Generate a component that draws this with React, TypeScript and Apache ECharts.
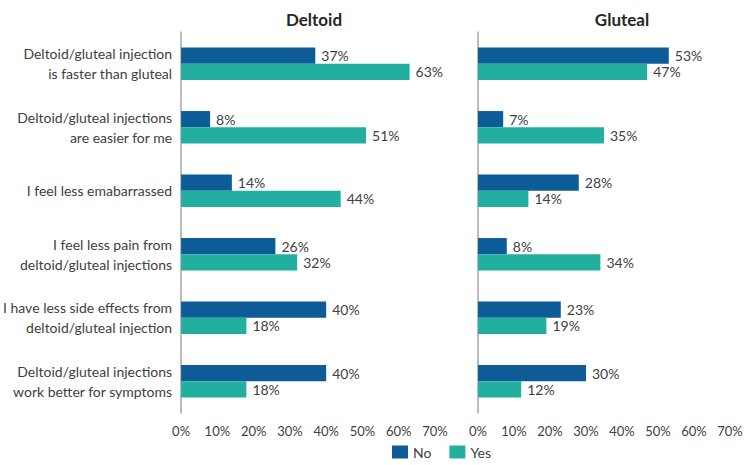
import React, { useEffect, useRef } from "react";
import * as echarts from "echarts";

const categories = [
  "Deltoid/gluteal injection\nis faster than gluteal",
  "Deltoid/gluteal injections\nare easier for me",
  "I feel less emabarrassed",
  "I feel less pain from\ndeltoid/gluteal injections",
  "I have less side effects from\ndeltoid/gluteal injection",
  "Deltoid/gluteal injections\nwork better for symptoms",
];
const panelTitles = ["Deltoid", "Gluteal"];
const seriesNames = ["No", "Yes"];
const deltoidNo = [37, 8, 14, 26, 40, 40];
const deltoidYes = [63, 51, 44, 32, 18, 18];
const glutealNo = [53, 7, 28, 8, 23, 30];
const glutealYes = [47, 35, 14, 34, 19, 12];

const COLORS = ["#0E5C97", "#22AFA0"];
const FONT = "Lato";
const TEXT = "#404040";

export default function App() {
  const ref = useRef<HTMLDivElement>(null);
  useEffect(() => {
    if (!ref.current) return;
    const chart = echarts.init(ref.current, undefined, { renderer: "svg" });
    const grids = [
      { left: 181, right: 315, top: 32, bottom: 52 },
      { left: 478, right: 20, top: 32, bottom: 52 },
    ];
    const xAxis = grids.map((_, i) => ({
      type: "value",
      gridIndex: i,
      min: 0,
      max: 70,
      interval: 10,
      axisLine: { show: false },
      axisTick: { show: false },
      splitLine: { show: false },
      axisLabel: {
        formatter: "{value}%",
        color: TEXT,
        fontFamily: FONT,
        fontSize: 13,
        margin: 11,
      },
    }));
    const yAxis = grids.map((_, i) => ({
      type: "category",
      gridIndex: i,
      inverse: true,
      data: categories,
      axisLine: { show: true, lineStyle: { color: "#A6A6A6", width: 1.5 } },
      axisTick: { show: false },
      axisLabel: {
        show: i === 0,
        color: TEXT,
        fontFamily: FONT,
        fontSize: 14,
        lineHeight: 20,
        margin: 9,
        align: "right",
      },
    }));
    const data = [
      [deltoidNo, deltoidYes],
      [glutealNo, glutealYes],
    ];
    const series: any[] = [];
    data.forEach((panel, p) => {
      panel.forEach((vals, s) => {
        series.push({
          type: "bar",
          name: seriesNames[s],
          xAxisIndex: p,
          yAxisIndex: p,
          data: vals,
          barGap: "0%",
          barCategoryGap: "49%",
          itemStyle: { color: COLORS[s] },
          label: {
            show: true,
            position: "right",
            distance: 6,
            formatter: "{c}%",
            color: TEXT,
            fontFamily: FONT,
            fontSize: 14,
          },
        });
      });
    });
    chart.setOption({
      animation: false,
      backgroundColor: "#ffffff",
      title: [
        {
          text: panelTitles[0],
          left: 309,
          top: 6,
          textAlign: "center",
          textStyle: { fontFamily: FONT, fontSize: 17, fontWeight: "bold", color: "#262626" },
        },
        {
          text: panelTitles[1],
          left: 617,
          top: 6,
          textAlign: "center",
          textStyle: { fontFamily: FONT, fontSize: 17, fontWeight: "bold", color: "#262626" },
        },
      ],
      grid: grids,
      xAxis,
      yAxis,
      legend: {
        data: seriesNames,
        top: 440,
        left: 387,
        itemWidth: 16,
        itemHeight: 13,
        itemGap: 18,
        icon: "rect",
        textStyle: { fontFamily: FONT, fontSize: 14, color: TEXT },
      },
      series,
    });
    return () => chart.dispose();
  }, []);
  return (
    <div
      ref={ref}
      style={{ position: "fixed", left: 0, top: 0, width: 750, height: 465 }}
    />
  );
}
